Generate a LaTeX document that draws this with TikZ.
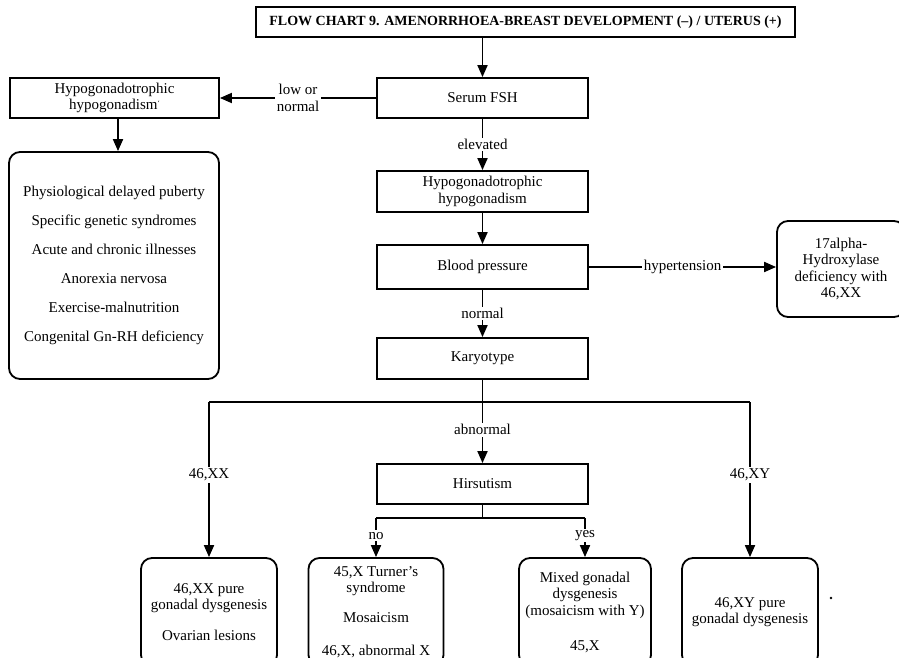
\documentclass[tikz,border=0pt]{standalone}
\usepackage{fontspec}
\setmainfont{Liberation Serif}
\usetikzlibrary{arrows.meta}
\newcommand\txtmain{\fontsize{15}{16.5}\selectfont}
\newcommand\txtlist{\fontsize{15}{29}\selectfont}
\newcommand\txttitle{\fontsize{14}{16}\selectfont\bfseries}
\begin{document}
\begin{tikzpicture}[x=1pt,y=-1pt,
  box/.style={draw, line width=1.8pt, align=center, inner sep=2pt, font=\txtmain, minimum height=40pt},
  cbox/.style={box, minimum width=211pt},
  rbox/.style={box, rounded corners=11pt},
  lbl/.style={fill=white, inner sep=1.5pt, font=\txtmain, align=center},
  link/.style={line width=1.8pt},
  arr/.style={link, -{Triangle[length=12pt,width=10pt]}},
]
\useasboundingbox (0,0) rectangle (899,658);

% heading
\node[box, font=\txttitle, minimum width=539pt, minimum height=30pt] (title) at (525.5,22)
  {FLOW CHART 9. AMENORRHOEA-BREAST DEVELOPMENT (–) / UTERUS (+)};

% central column
\node[cbox] (fsh) at (482.5,98) {Serum FSH};
\node[cbox, minimum height=41pt] (hyper) at (482.5,191.5) {Hypogonadotrophic\\hypogonadism};
\node[cbox, minimum height=44pt] (bp) at (482.5,267) {Blood pressure};
\node[cbox, minimum height=41pt] (kar) at (482.5,358.5) {Karyotype};
\node[cbox] (hir) at (482.5,484) {Hirsutism};

% left column
\node[box, minimum width=209pt] (hypo) at (114.5,98) {Hypogonadotrophic\\hypogonadism\raisebox{0.6ex}{\scriptsize`}};
\node[rbox, font=\txtlist, minimum width=210pt, minimum height=227pt] (causes) at (114,265.5)
  {Physiological delayed puberty\\Specific genetic syndromes\\Acute and chronic illnesses\\Anorexia nervosa\\Exercise-malnutrition\\Congenital Gn-RH deficiency};

% right outcome
\node[rbox, minimum width=128pt, minimum height=96pt] (hydrox) at (841,269)
  {17alpha-\\Hydroxylase\\deficiency with\\46,XX};

% bottom outcomes
\node[rbox, minimum width=136pt, minimum height=108pt] (xxpure) at (209,612)
  {46,XX pure\\gonadal dysgenesis\\[14.5pt]Ovarian lesions};
\node[rbox, minimum width=135pt, minimum height=108pt] (turner) at (376,612)
  {45,X Turner's\\syndrome\\[13.5pt]Mosaicism\\[16.5pt]46,X, abnormal X};
\node[rbox, minimum width=132pt, minimum height=108pt] (mixed) at (585,612)
  {Mixed gonadal\\dysgenesis\\(mosaicism with Y)\\[18.5pt]45,X};
\node[rbox, minimum width=136pt, minimum height=108pt] (xypure) at (750,612)
  {46,XY pure\\gonadal dysgenesis};

% junction points
\coordinate (kl) at (209,402);
\coordinate (kr) at (750,402);
\coordinate (hj) at (482.5,518);
\coordinate (hl) at (376,518);
\coordinate (hr) at (585,518);

% connectors
\draw[arr] (title.south -| fsh.north) -- (fsh.north);
\draw[arr] (fsh.west) -- node[lbl]{low or\\normal} (hypo.east);
\draw[arr] (hypo.south -| 118,0) -- (causes.north -| 118,0);
\draw[arr] (fsh.south) -- node[lbl]{elevated} (hyper.north);
\draw[arr] (hyper.south) -- (bp.north);
\draw[arr] (bp.east) -- node[lbl]{hypertension} (bp.east -| hydrox.west);
\draw[arr] (bp.south) -- node[lbl]{normal} (kar.north);
\draw[arr] (kar.south) -- node[lbl, pos=0.6]{abnormal} (hir.north);
\draw[link] (kl) -- (kr);
\draw[arr] (kl) -- node[lbl, pos=0.47]{46,XX} (xxpure.north);
\draw[arr] (kr) -- node[lbl, pos=0.47]{46,XY} (xypure.north);
\draw[link] (hir.south) -- (hj);
\draw[link] (hl) -- (hr);
\draw[arr] (hl) -- node[lbl, pos=0.45]{no} (turner.north);
\draw[arr] (hr) -- node[lbl, pos=0.45]{yes} (mixed.north);

% stray mark
\fill (831,598) circle (1.3pt);
\end{tikzpicture}
\end{document}
